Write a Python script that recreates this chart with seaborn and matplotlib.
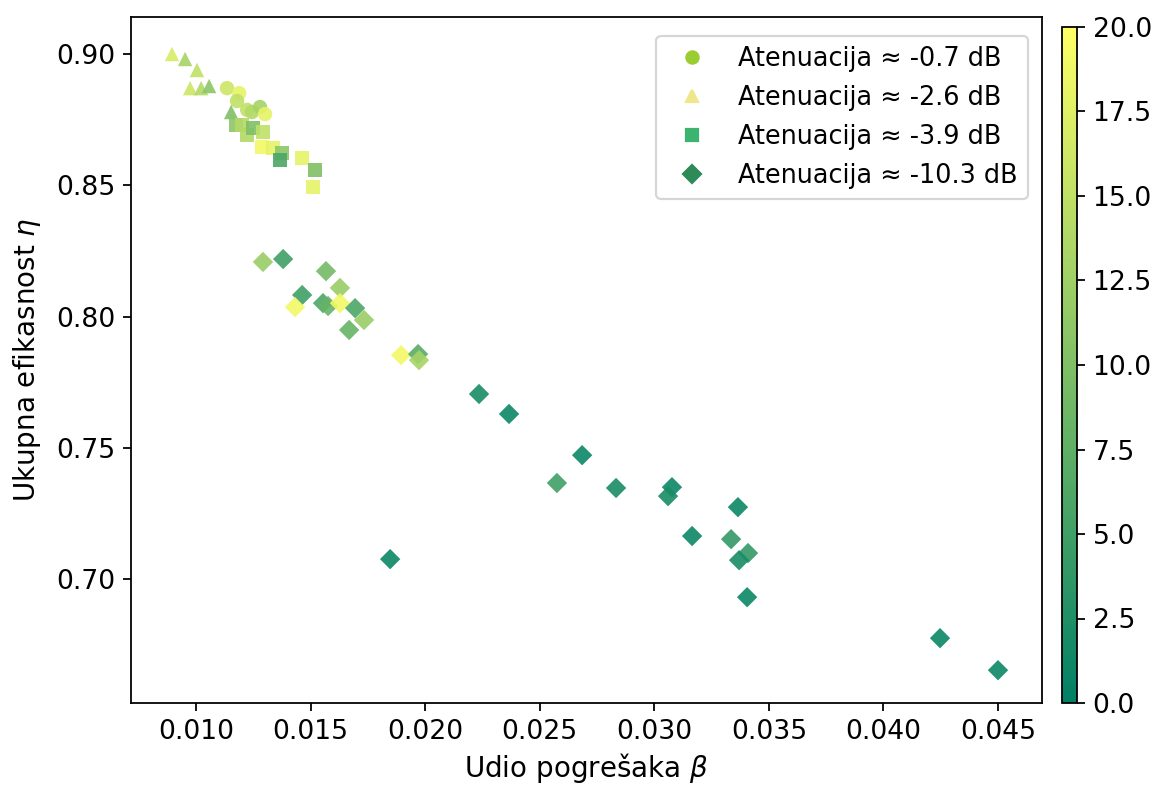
import numpy as np
import pandas as pd
import matplotlib
matplotlib.use("Agg")
import matplotlib.pyplot as plt
import seaborn as sns
from matplotlib.lines import Line2D

# Atenuacija ~ -0.7 dB (krugovi)
beta_07 = [0.01135, 0.01188, 0.01179, 0.01223, 0.01244, 0.01279, 0.01301]
eta_07 = [0.8870, 0.8851, 0.8821, 0.8787, 0.8779, 0.8798, 0.8771]
val_07 = [16, 18, 15, 15, 14, 13, 18]

# Atenuacija ~ -2.6 dB (trokuti)
beta_26 = [0.00895, 0.00952, 0.01004, 0.00974, 0.01022, 0.01057, 0.01153]
eta_26 = [0.9000, 0.8981, 0.8939, 0.8870, 0.8870, 0.8878, 0.8779]
val_26 = [17, 13, 15, 16, 14, 11, 10]

# Atenuacija ~ -3.9 dB (kvadrati)
beta_39 = [0.01175, 0.01201, 0.01223, 0.01249, 0.01292, 0.01288, 0.01336,
           0.01375, 0.01367, 0.01463, 0.01519, 0.01511]
eta_39 = [0.8730, 0.8730, 0.8691, 0.8718, 0.8703, 0.8646, 0.8642,
          0.8623, 0.8596, 0.8604, 0.8558, 0.8493]
val_39 = [11, 14, 14, 10, 15, 19, 18, 11, 6, 18, 10, 18]

# Atenuacija ~ -10.3 dB (rombovi)
beta_103 = [0.01292, 0.01380, 0.01463, 0.01432, 0.01567, 0.01554, 0.01576,
            0.01628, 0.01628, 0.01694, 0.01733, 0.01668, 0.01895, 0.01969,
            0.01973, 0.02235, 0.02366, 0.02685, 0.02575, 0.02833, 0.03077,
            0.03060, 0.03365, 0.03165, 0.03335, 0.03409, 0.03370, 0.03405,
            0.01847, 0.04247, 0.04500]
eta_103 = [0.8208, 0.8219, 0.8082, 0.8036, 0.8173, 0.8051, 0.8040,
           0.8109, 0.8051, 0.8032, 0.7987, 0.7949, 0.7853, 0.7857,
           0.7834, 0.7705, 0.7629, 0.7472, 0.7366, 0.7347, 0.7350,
           0.7316, 0.7274, 0.7164, 0.7152, 0.7099, 0.7072, 0.6931,
           0.7076, 0.6775, 0.6653]
val_103 = [12, 5, 5, 19, 9, 6, 8, 12, 19, 6, 12, 8, 19, 7,
           13, 2, 1, 1, 5, 2, 1, 2, 1, 1, 4, 4, 2, 1, 1, 1, 1]

labels = ["Atenuacija ≈ -0.7 dB", "Atenuacija ≈ -2.6 dB",
          "Atenuacija ≈ -3.9 dB", "Atenuacija ≈ -10.3 dB"]
marker_list = ["o", "^", "s", "D"]
legend_colors = ["yellowgreen", "khaki", "mediumseagreen", "seagreen"]

frames = []
for lab, b, e, v in zip(labels, [beta_07, beta_26, beta_39, beta_103],
                        [eta_07, eta_26, eta_39, eta_103],
                        [val_07, val_26, val_39, val_103]):
    frames.append(pd.DataFrame({"beta": b, "eta": e, "val": v, "grupa": lab}))
df = pd.concat(frames, ignore_index=True)

fig = plt.figure(figsize=(1157 / 160, 787 / 160), dpi=160)
ax = fig.add_axes([131 / 1157, 84 / 787, 911 / 1157, 686 / 787])
cax = fig.add_axes([1062 / 1157, 84 / 787, 15 / 1157, 676 / 787])

sns.scatterplot(data=df, x="beta", y="eta", hue="val", style="grupa",
                palette="summer", hue_norm=(0, 20),
                markers=dict(zip(labels, marker_list)), s=42,
                linewidth=0, alpha=0.9, legend=False, ax=ax)

ax.set_xlim(0.00716, 0.04692)
ax.set_ylim(0.6528, 0.9141)
ax.set_xlabel("Udio pogrešaka $\\beta$", fontsize=12.5, labelpad=3)
ax.set_ylabel("Ukupna efikasnost $\\eta$", fontsize=12.5, labelpad=6)
ax.tick_params(labelsize=12)

sm = plt.cm.ScalarMappable(cmap="summer", norm=plt.Normalize(0, 20))
cb = fig.colorbar(sm, cax=cax)
cb.ax.tick_params(labelsize=12)

handles = [Line2D([], [], linestyle="", marker=m, color=c, markersize=5.5)
           for m, c in zip(marker_list, legend_colors)]
ax.legend(handles, labels, loc="upper right", fontsize=11.5,
          bbox_to_anchor=(0.9846, 0.9723), borderaxespad=0)

fig.savefig("out.png", dpi=160)
